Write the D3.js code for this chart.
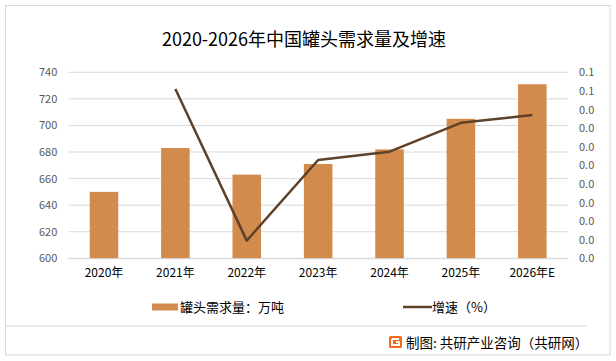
<!DOCTYPE html>
<html><head><meta charset="utf-8">
<script src="https://cdn.jsdelivr.net/npm/d3@7"></script>
<style>html,body{margin:0;padding:0;background:#fff;}svg{display:block;}</style>
</head><body><svg id="c" width="616" height="361"></svg>
<script>
const categories = ["2020年","2021年","2022年","2023年","2024年","2025年","2026年E"];
const demand = [650, 683, 663, 671, 682, 705, 731];
const growth = [null, 0.0546, 0.0057, 0.0317, 0.0344, 0.0437, 0.0462];
const leftTicks = [600, 620, 640, 660, 680, 700, 720, 740];
const rightTicks = [0, 0.006, 0.012, 0.018, 0.024, 0.03, 0.036, 0.042, 0.048, 0.054, 0.06];

const svg = d3.select("#c");
const font = "'Noto Sans CJK SC','Microsoft YaHei',sans-serif";
const L = 68.3, R = 568, T = 72.3, B = 258.3;

svg.append("rect").attr("x",5.5).attr("y",5.5).attr("width",604.5).attr("height",349.5)
  .attr("fill","#fff").attr("stroke","#d9d9d9");

svg.append("text").attr("x",304).attr("y",46).attr("text-anchor","middle")
  .attr("font-family",font).attr("font-size",18).attr("fill","#000")
  .text("2020-2026年中国罐头需求量及增速");

const x = d3.scaleBand().domain(categories).range([L,R]).paddingInner(0.6).paddingOuter(0.3);
const yL = d3.scaleLinear().domain([600,740]).range([B,T]);
const yR = d3.scaleLinear().domain([0,0.06]).range([B,T]);

// gridlines
svg.append("g").selectAll("line").data(leftTicks).join("line")
  .attr("x1",L).attr("x2",R).attr("y1",d=>yL(d)).attr("y2",d=>yL(d))
  .attr("stroke","#d9d9d9").attr("stroke-width",1);

// left axis
const gl = svg.append("g").attr("transform",`translate(${L},0)`)
  .call(d3.axisLeft(yL).tickValues(leftTicks).tickSize(0).tickPadding(11));
gl.select(".domain").remove();
gl.selectAll("text").attr("font-family",font).attr("font-size",11).attr("fill","#595959");

// right axis
const gr = svg.append("g").attr("transform",`translate(${R},0)`)
  .call(d3.axisRight(yR).tickValues(rightTicks).tickFormat(d3.format(".1f")).tickSize(0).tickPadding(11));
gr.select(".domain").remove();
gr.selectAll("text").attr("font-family",font).attr("font-size",11).attr("fill","#595959");

// bars
svg.append("g").selectAll("rect").data(demand).join("rect")
  .attr("x",(d,i)=>x(categories[i])).attr("width",x.bandwidth())
  .attr("y",d=>yL(d)).attr("height",d=>B-yL(d)).attr("fill","#D38B4D");

// bottom axis
const gb = svg.append("g").attr("transform",`translate(0,${B})`)
  .call(d3.axisBottom(x).tickSize(0).tickPadding(10));
gb.select(".domain").attr("stroke","#d9d9d9");
gb.selectAll("text").attr("font-family",font).attr("font-size",12).attr("fill","#000");

// line
const pts = growth.map((g,i)=>({c:categories[i],g})).filter(d=>d.g!==null);
svg.append("path").datum(pts)
  .attr("d",d3.line().x(d=>x(d.c)+x.bandwidth()/2).y(d=>yR(d.g)))
  .attr("fill","none").attr("stroke","#5E4129").attr("stroke-width",2.5).attr("stroke-linejoin","round");

// legend
svg.append("rect").attr("x",152).attr("y",303.5).attr("width",26).attr("height",7).attr("fill","#D38B4D");
svg.append("text").attr("x",180).attr("y",311.5).attr("font-family",font).attr("font-size",13).attr("fill","#000")
  .text("罐头需求量：万吨");
svg.append("line").attr("x1",403).attr("x2",432).attr("y1",307).attr("y2",307).attr("stroke","#5E4129").attr("stroke-width",2.5);
svg.append("text").attr("x",432).attr("y",311.5).attr("font-family",font).attr("font-size",13).attr("fill","#000")
  .text("增速（%）");

// footer
svg.append("line").attr("x1",6).attr("x2",587).attr("y1",326).attr("y2",326).attr("stroke","#d9d9d9");
const lg = svg.append("g").attr("transform","translate(389,336)");
lg.append("rect").attr("width",13).attr("height",12).attr("rx",1.5).attr("fill","#F26B1D");
lg.append("path").attr("d","M3,3 H10 M3,3 V9 H10 V6 H7").attr("fill","none").attr("stroke","#fff").attr("stroke-width",1.8);
svg.append("text").attr("x",406).attr("y",347.5).attr("font-family",font).attr("font-size",13.5).attr("fill","#000")
  .text("制图: 共研产业咨询（共研网）");
</script></body></html>
